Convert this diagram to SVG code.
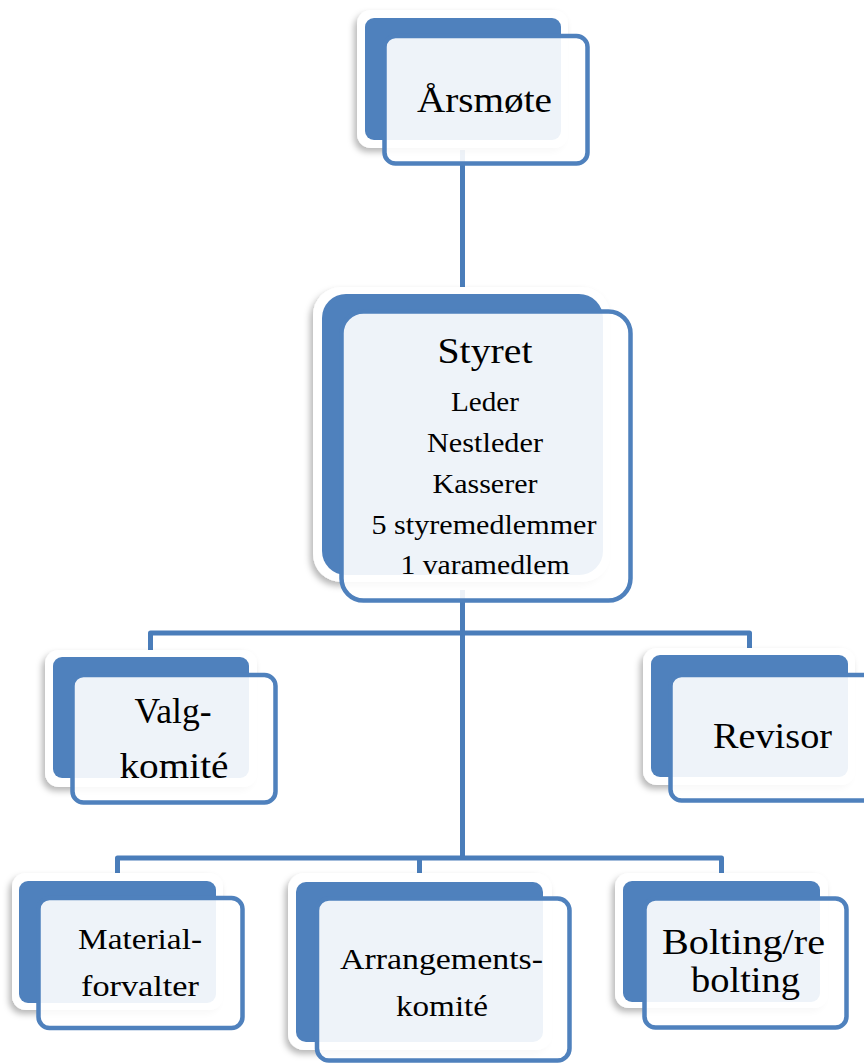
<svg xmlns="http://www.w3.org/2000/svg" width="864" height="1063" viewBox="0 0 864 1063">
<defs>
<filter id="sh" x="-20%" y="-20%" width="140%" height="140%">
<feDropShadow dx="-3" dy="4" stdDeviation="3" flood-color="#000" flood-opacity="0.28"/>
</filter>
<style>
.card{fill:#fff;filter:url(#sh)}
.back{fill:#4F81BD}
.front{fill:#fff;fill-opacity:0.9;stroke:#4F81BD;stroke-width:4.5}
.con{fill:none;stroke:#4A7DBA;stroke-width:5;stroke-linejoin:round}
text{font-family:"Liberation Serif","Times New Roman",serif;fill:#000;text-anchor:middle}
.big{font-size:35px}
.mid{font-size:30px}
.sm{font-size:27px}
</style>
</defs>
<rect width="864" height="1063" fill="#fff"/>
<g id="connectors">
<path class="con" d="M462.5 150 V300"/>
<path class="con" d="M462.5 590 V858"/>
<path class="con" d="M150.5 655 V633 H749.5 V655"/>
<path class="con" d="M117.5 878 V858 H721.5 V878"/>
<path class="con" d="M419.5 858 V878"/>
</g>
<g id="arsmote">
<rect class="card" x="357" y="10" width="211" height="138" rx="14"/>
<rect class="back" x="365" y="18" width="196" height="122" rx="9"/>
<rect class="front" x="384.5" y="36" width="203" height="127.5" rx="11"/>
<text class="big" x="484.5" y="112" textLength="135" lengthAdjust="spacingAndGlyphs">Årsmøte</text>
</g>
<g id="styret">
<rect class="card" x="313" y="287" width="297" height="295" rx="28"/>
<rect class="back" x="322" y="294" width="281" height="281" rx="24"/>
<rect class="front" x="341.5" y="311.5" width="289" height="289" rx="22"/>
<text class="big" x="485" y="363" textLength="95" lengthAdjust="spacingAndGlyphs">Styret</text>
<text class="sm" x="485" y="411" textLength="68" lengthAdjust="spacingAndGlyphs">Leder</text>
<text class="sm" x="485" y="452" textLength="116" lengthAdjust="spacingAndGlyphs">Nestleder</text>
<text class="sm" x="485" y="493" textLength="105" lengthAdjust="spacingAndGlyphs">Kasserer</text>
<text class="sm" x="484" y="534" textLength="225" lengthAdjust="spacingAndGlyphs">5 styremedlemmer</text>
<text class="sm" x="485" y="574" textLength="169" lengthAdjust="spacingAndGlyphs">1 varamedlem</text>
</g>
<g id="valgkomite">
<rect class="card" x="45" y="650" width="212" height="137" rx="14"/>
<rect class="back" x="53" y="657" width="196" height="121" rx="9"/>
<rect class="front" x="72.5" y="675" width="203" height="127.5" rx="11"/>
<text class="big" x="173" y="723" textLength="77" lengthAdjust="spacingAndGlyphs">Valg-</text>
<text class="big" x="174" y="778" textLength="109" lengthAdjust="spacingAndGlyphs">komité</text>
</g>
<g id="revisor">
<rect class="card" x="643" y="648" width="212" height="137" rx="14"/>
<rect class="back" x="651" y="655" width="197" height="122" rx="9"/>
<rect class="front" x="670.5" y="675" width="203" height="125.5" rx="11"/>
<text class="big" x="772.5" y="748" textLength="119" lengthAdjust="spacingAndGlyphs">Revisor</text>
</g>
<g id="materialforvalter">
<rect class="card" x="12" y="873" width="211" height="137" rx="14"/>
<rect class="back" x="19" y="881" width="197" height="122" rx="9"/>
<rect class="front" x="38.5" y="898" width="204" height="130" rx="11"/>
<text class="mid" x="140" y="949" textLength="124" lengthAdjust="spacingAndGlyphs">Material-</text>
<text class="mid" x="140" y="996" textLength="118" lengthAdjust="spacingAndGlyphs">forvalter</text>
</g>
<g id="arrangementskomite">
<rect class="card" x="288" y="873" width="264" height="177" rx="16"/>
<rect class="back" x="296" y="882" width="247" height="160" rx="10"/>
<rect class="front" x="317" y="898.5" width="252.5" height="162" rx="12"/>
<text class="mid" x="441.5" y="969" textLength="203" lengthAdjust="spacingAndGlyphs">Arrangements-</text>
<text class="mid" x="442" y="1016" textLength="92" lengthAdjust="spacingAndGlyphs">komité</text>
</g>
<g id="bolting">
<rect class="card" x="615" y="873" width="213" height="135" rx="14"/>
<rect class="back" x="623" y="881" width="197" height="121" rx="9"/>
<rect class="front" x="644.5" y="898.5" width="202" height="129" rx="11"/>
<text class="big" x="743.5" y="954" textLength="163" lengthAdjust="spacingAndGlyphs">Bolting/re</text>
<text class="big" x="745.5" y="992" textLength="109" lengthAdjust="spacingAndGlyphs">bolting</text>
</g>
</svg>
